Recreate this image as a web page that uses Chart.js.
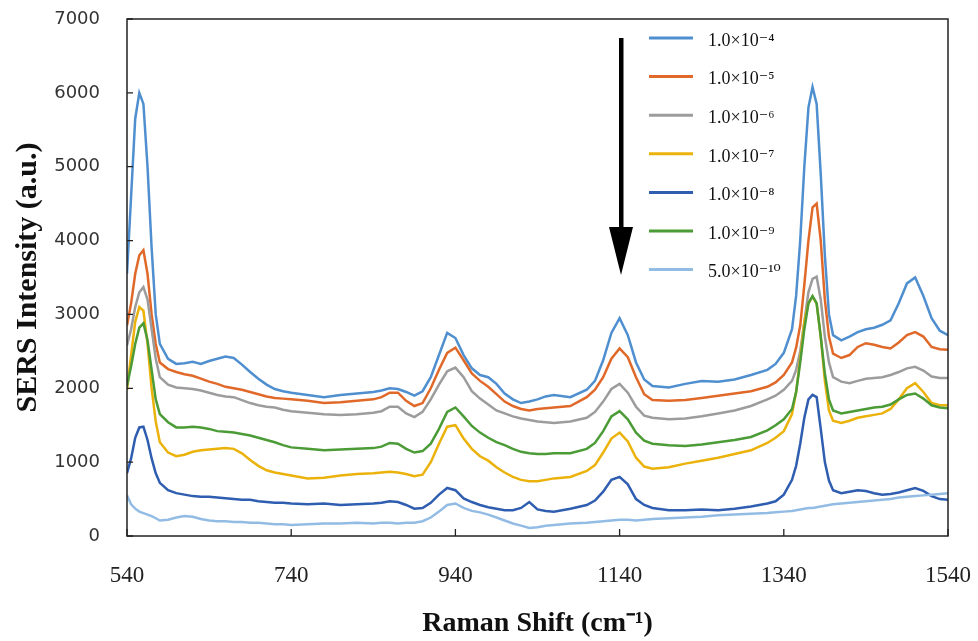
<!DOCTYPE html>
<html>
<head>
<meta charset="utf-8">
<script src="https://cdn.jsdelivr.net/npm/chart.js@4.4.1/dist/chart.umd.min.js"></script>
<style>
  html, body { margin: 0; padding: 0; background: #fff; }
  #wrap { width: 978px; height: 641px; }
</style>
</head>
<body>
<div id="wrap"><canvas id="sers"></canvas></div>
<script>
// Raman shift (cm-1)
var shift = [540,545,550,555,560,565,570,575,580,
  590,600,610,620,630,640,650,660,670,680,690,700,710,720,730,740,
  760,780,800,820,840,
  850,860,870,880,890,900,910,920,930,940,950,960,970,980,990,1000,1010,1020,1030,1040,1050,1060,
  1080,1100,
  1110,1120,1130,1140,1150,1160,1170,1180,
  1200,1220,1240,1260,1280,1300,1320,
  1330,1340,1350,
  1355,1360,1365,1370,1375,1380,1385,1390,1395,
  1400,1410,1420,1430,1440,1450,1460,1470,1480,1490,1500,1510,1520,1530,1540];

var conc = ["1.0\u00D710\u207B\u2074", "1.0\u00D710\u207B\u2075", "1.0\u00D710\u207B\u2076", "1.0\u00D710\u207B\u2077",
            "1.0\u00D710\u207B\u2078", "1.0\u00D710\u207B\u2079", "5.0\u00D710\u207B\u00B9\u2070"];

var s1e4 = [3550,4600,5650,6000,5850,5000,3900,3000,2600,
  2400,2330,2340,2360,2330,2370,2400,2430,2410,2320,2220,2130,2050,1990,1960,1940,
  1910,1880,1910,1930,1950,
  1970,2000,1990,1950,1900,1960,2150,2450,2750,2680,2450,2270,2180,2150,2060,1930,1850,1800,1820,1850,1890,1910,
  1880,1980,
  2100,2380,2750,2950,2720,2350,2120,2030,
  2010,2060,2100,2090,2120,2180,2250,
  2330,2480,2800,
  3250,4000,5000,5800,6080,5850,4900,3800,3000,
  2720,2650,2700,2760,2800,2820,2860,2920,3150,3420,3500,3250,2950,2780,2720];

var s1e5 = [2850,3150,3550,3800,3870,3550,3000,2600,2350,
  2260,2220,2190,2170,2130,2090,2060,2020,2000,1980,1950,1920,1890,1870,1860,1850,
  1830,1800,1810,1830,1850,
  1880,1940,1940,1830,1760,1800,2000,2250,2480,2550,2380,2200,2100,2020,1920,1820,1760,1720,1700,1720,1730,1740,
  1760,1880,
  1980,2150,2400,2540,2420,2150,1920,1840,
  1830,1840,1870,1900,1930,1960,2020,
  2080,2180,2350,
  2550,2850,3400,4000,4450,4500,4000,3200,2700,
  2470,2410,2450,2560,2610,2590,2560,2540,2620,2720,2760,2700,2560,2530,2520];

var s1e6 = [2580,2800,3100,3300,3370,3200,2800,2400,2150,
  2050,2010,2000,1990,1970,1940,1910,1890,1880,1840,1800,1770,1750,1740,1710,1690,
  1670,1650,1640,1650,1670,
  1690,1750,1750,1660,1610,1680,1850,2050,2230,2280,2150,1960,1860,1780,1700,1660,1620,1590,1570,1550,1540,1530,
  1550,1600,
  1680,1820,1990,2060,1940,1750,1630,1600,
  1580,1590,1620,1660,1700,1760,1850,
  1900,1980,2100,
  2250,2500,2900,3300,3480,3510,3200,2700,2350,
  2150,2090,2070,2100,2130,2140,2150,2180,2220,2270,2290,2240,2160,2140,2140];

var s1e7 = [1980,2450,2900,3100,3050,2600,2000,1550,1270,
  1130,1080,1100,1140,1160,1170,1180,1190,1180,1120,1030,950,890,860,840,820,
  780,790,820,840,850,
  860,870,860,840,810,830,1000,1250,1480,1500,1320,1180,1080,1020,930,860,800,760,740,740,760,780,
  800,880,
  960,1130,1320,1400,1280,1060,940,910,
  930,980,1020,1060,1110,1160,1260,
  1330,1420,1650,
  1950,2400,2900,3150,3240,3150,2700,2100,1700,
  1560,1530,1560,1600,1620,1640,1660,1720,1850,2000,2070,1950,1800,1770,1770];

var s1e8 = [850,1050,1330,1470,1480,1300,1050,850,720,
  620,580,560,540,530,530,520,510,500,490,490,470,460,450,450,440,
  430,440,420,430,440,
  450,470,460,420,370,380,450,560,650,620,510,460,420,390,370,350,350,380,460,360,340,330,
  370,420,
  480,600,760,800,700,500,420,380,
  350,350,360,350,370,400,440,
  470,560,760,
  950,1250,1600,1850,1910,1880,1450,1000,750,
  620,580,600,620,610,580,560,570,590,620,650,610,540,500,490];

var s1e9 = [2030,2300,2600,2820,2880,2650,2250,1850,1650,
  1540,1470,1470,1480,1470,1450,1420,1410,1400,1380,1360,1330,1300,1270,1230,1200,
  1180,1160,1170,1180,1190,
  1210,1260,1250,1180,1130,1150,1250,1450,1680,1740,1620,1490,1400,1330,1270,1230,1180,1140,1120,1110,1110,1120,
  1120,1180,
  1260,1420,1620,1690,1580,1400,1290,1250,
  1230,1220,1240,1270,1300,1340,1430,
  1500,1580,1720,
  1950,2350,2800,3150,3250,3150,2700,2200,1850,
  1700,1660,1680,1700,1720,1740,1750,1780,1850,1910,1930,1860,1770,1740,1730];

var s5e10 = [550,430,370,330,310,290,270,240,210,
  220,250,270,260,230,210,200,200,190,190,180,180,170,160,160,150,
  160,170,170,180,170,
  180,180,170,180,180,200,250,330,420,440,380,340,320,290,250,210,170,140,110,120,140,150,
  170,180,
  190,200,210,220,220,210,220,230,
  240,250,260,280,290,300,310,
  320,330,340,
  350,360,370,380,380,390,400,410,420,
  430,440,450,460,470,480,490,500,520,530,540,550,560,570,580];

var series = [s1e4, s1e5, s1e6, s1e7, s1e8, s1e9, s5e10];
var colors = ["#4f8fcf", "#e0692a", "#9c9c9c", "#ebb20c", "#2f5db0", "#4b9b36", "#93bce5"];

var datasets = [];
for (var i = 0; i < series.length; i++) {
    var pts = [];
    for (var k = 0; k < shift.length; k++) {
        pts.push({x: shift[k], y: series[i][k]});
    }
    datasets.push({
        label: conc[i],
        data: pts,
        borderColor: colors[i],
        backgroundColor: colors[i],
        borderWidth: 2.5,
        pointRadius: 0,
        tension: 0,
        order: series.length - i
    });
}

// box, inward ticks, arrow and legend
var extras = {
    id: 'extras',
    afterDraw: function(chart) {
        var ctx = chart.ctx;
        var a = chart.chartArea;
        var xs = chart.scales.x, ys = chart.scales.y;
        ctx.save();
        ctx.strokeStyle = '#222';
        ctx.lineWidth = 1.5;
        ctx.strokeRect(a.left, a.top, a.right - a.left, a.bottom - a.top);
        ctx.lineWidth = 1.3;
        ctx.beginPath();
        xs.ticks.forEach(function(t) {
            var px = xs.getPixelForValue(t.value);
            ctx.moveTo(px, a.bottom);
            ctx.lineTo(px, a.bottom - 7);
        });
        ys.ticks.forEach(function(t) {
            var py = ys.getPixelForValue(t.value);
            ctx.moveTo(a.left, py);
            ctx.lineTo(a.left + 6, py);
        });
        ctx.stroke();

        // arrow
        ctx.fillStyle = '#000';
        ctx.fillRect(619, 38, 4.5, 192);
        ctx.beginPath();
        ctx.moveTo(609, 227);
        ctx.lineTo(633, 227);
        ctx.lineTo(621, 275);
        ctx.closePath();
        ctx.fill();

        // legend
        ctx.font = '18px "Liberation Serif", "DejaVu Serif", serif';
        ctx.textBaseline = 'middle';
        ctx.textAlign = 'left';
        chart.data.datasets.forEach(function(ds, i) {
            var y = 38 + i * 38.6;
            ctx.strokeStyle = ds.borderColor;
            ctx.lineWidth = 3;
            ctx.beginPath();
            ctx.moveTo(649, y);
            ctx.lineTo(693, y);
            ctx.stroke();
            ctx.fillStyle = '#111';
            ctx.fillText(ds.label, 708, y + 3);
        });
        ctx.restore();
    }
};

function noPad(s) {
    s.paddingTop = 0; s.paddingBottom = 0;
    s.paddingLeft = 0; s.paddingRight = 0;
}

new Chart(document.getElementById('sers'), {
    type: 'line',
    data: { datasets: datasets },
    options: {
        responsive: true,
        maintainAspectRatio: false,
        animation: false,
        layout: { padding: { left: 0, right: 30, top: 19, bottom: 0 } },
        plugins: {
            legend: { display: false },
            tooltip: { enabled: false }
        },
        scales: {
            x: {
                type: 'linear',
                min: 540,
                max: 1540,
                ticks: {
                    stepSize: 200,
                    padding: 26,
                    color: '#222',
                    font: { family: '"Liberation Serif", serif', size: 23 },
                    callback: function(v) { return String(v); }
                },
                grid: { display: false, drawTicks: false },
                border: { display: false },
                title: {
                    display: true,
                    text: 'Raman Shift (cm\u207B\u00B9)',
                    color: '#111',
                    padding: { top: 0, bottom: 0 },
                    font: { family: '"Liberation Serif", serif', size: 28, weight: 'bold' }
                },
                afterFit: function(s) { s.height = 105; noPad(s); }
            },
            y: {
                min: 0,
                max: 7000,
                ticks: {
                    stepSize: 1000,
                    padding: 27,
                    color: '#333',
                    font: { family: '"DejaVu Sans", sans-serif', size: 18 },
                    callback: function(v) { return String(v); }
                },
                grid: { display: false, drawTicks: false },
                border: { display: false },
                title: {
                    display: true,
                    text: 'SERS Intensity (a.u.)',
                    color: '#111',
                    padding: { top: 10, bottom: 0 },
                    font: { family: '"Liberation Serif", serif', size: 30, weight: 'bold' }
                },
                afterFit: function(s) { s.width = 127; noPad(s); }
            }
        }
    },
    plugins: [extras]
});
</script>
</body>
</html>
